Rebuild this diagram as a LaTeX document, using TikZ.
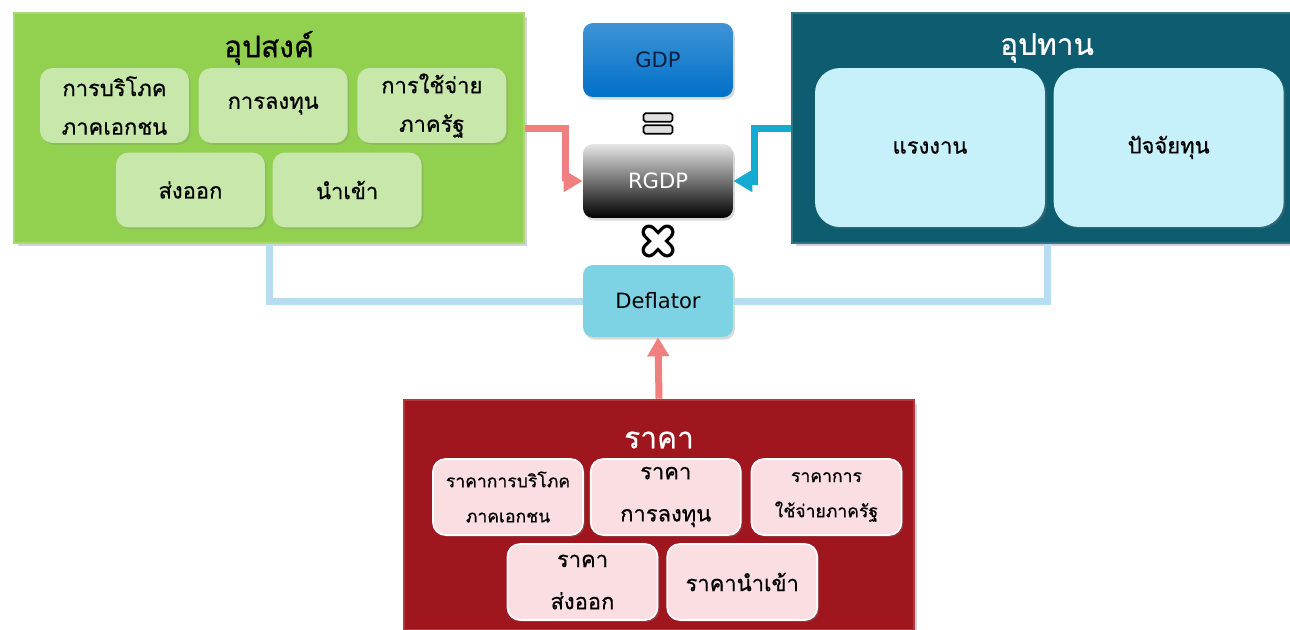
\documentclass[tikz,border=0pt]{standalone}
\usepackage{fontspec}
\newfontfamily\thaifont[Script=Thai, FakeBold=0.6]{Loma}
\newfontfamily\latinfont{DejaVu Sans}
\usetikzlibrary{arrows.meta, positioning, shadows}
\definecolor{demandgreen}{RGB}{146,208,80}
\definecolor{demandsub}{RGB}{200,231,170}
\definecolor{supplyteal}{RGB}{14,92,112}
\definecolor{supplysub}{RGB}{198,240,250}
\definecolor{pricered}{RGB}{160,22,30}
\definecolor{pricesub}{RGB}{250,222,226}
\definecolor{gdpblue}{RGB}{0,112,200}
\definecolor{deflcyan}{RGB}{125,210,228}
\definecolor{arrowpink}{RGB}{240,128,128}
\definecolor{arrowblue}{RGB}{20,170,210}
\definecolor{linkblue}{RGB}{180,222,242}

\begin{document}
\begin{tikzpicture}[
        x=0.02cm, y=-0.02cm,
        outer/.style={rectangle, minimum width=10.2cm, minimum height=4.6cm, line width=1.5pt, drop shadow={opacity=0.35, shadow xshift=2pt, shadow yshift=-2pt}},
        title/.style={font=\thaifont\fontsize{17}{20}\selectfont},
        dsub/.style={rectangle, rounded corners=0.25cm, fill=demandsub, minimum width=2.98cm, minimum height=1.5cm, align=center, inner sep=1pt, font=\thaifont\fontsize{12.5}{22}\selectfont, drop shadow={opacity=0.25, shadow xshift=1pt, shadow yshift=-1pt}},
        ssub/.style={rectangle, rounded corners=0.5cm, fill=supplysub, minimum width=4.6cm, minimum height=3.18cm, font=\thaifont\fontsize{12.5}{22}\selectfont, drop shadow={opacity=0.3, shadow xshift=1pt, shadow yshift=-1pt}},
        psub/.style={rectangle, rounded corners=0.25cm, fill=pricesub, draw=white, line width=1pt, minimum width=3cm, minimum height=1.52cm, align=center, inner sep=1pt, font=\thaifont\fontsize{12.5}{24}\selectfont, drop shadow={opacity=0.35, shadow xshift=1pt, shadow yshift=-1pt}},
        small/.style={font=\thaifont\fontsize{10}{20}\selectfont},
        mid/.style={rectangle, rounded corners=0.2cm, minimum width=3cm, minimum height=1.48cm, font=\latinfont\fontsize{12}{14}\selectfont, drop shadow={opacity=0.3, shadow xshift=1pt, shadow yshift=-1.5pt}},
        eqbar/.style={rectangle, rounded corners=1pt, draw=black, line width=1pt, fill=gray!25, minimum width=0.58cm, minimum height=0.17cm, inner sep=0pt},
        pinkarrow/.style={line width=0.14cm, draw=arrowpink, -{Triangle[length=0.38cm, width=0.42cm]}},
        bluearrow/.style={line width=0.14cm, draw=arrowblue, -{Triangle[length=0.38cm, width=0.42cm]}},
        link/.style={line width=0.14cm, draw=linkblue}
    ]
    \useasboundingbox (0,0) rectangle (1290,629);

    % demand
    \node[outer, fill=demandgreen, draw=demandgreen!80!white] (demand) at (269,128) {};
    \node[title] (demandtitle) at (269,48) {อุปสงค์};
    \node[dsub] (cons) at (114.5,105.5) {การบริโภค\\ภาคเอกชน};
    \node[dsub, right=0.18cm of cons] (inv) {การลงทุน};
    \node[dsub, right=0.18cm of inv] (gov) {การใช้จ่าย\\ภาครัฐ};
    \node[dsub] (exp) at (190.5,190) {ส่งออก};
    \node[dsub, right=0.14cm of exp] (imp) {นำเข้า};

    % supply
    \node[outer, fill=supplyteal, draw=supplyteal!85!white] (supply) at (1047,128) {};
    \node[title, text=white] (supplytitle) at (1047,48) {อุปทาน};
    \node[ssub] (labour) at (930,147.5) {แรงงาน};
    \node[ssub, right=0.16cm of labour] (capital) {ปัจจัยทุน};

    % centre
    \node[mid, top color=gdpblue!75!white, bottom color=gdpblue, text={rgb,255:red,15;green,30;blue,60}] (gdp) at (658,60) {GDP};
    \node[eqbar] (eqtop) at (658,117.5) {};
    \node[eqbar] (eqbot) at (658,129.5) {};
    \node[mid, top color=gray!20, bottom color=black, text=white] (rgdp) at (658,181) {RGDP};
    \coordinate (times) at (658,241);
    \node[mid, fill=deflcyan, minimum height=1.44cm] (defl) at (658,301) {Deflator};

    % price
    \node[outer, fill=pricered, draw=pricered!85!white] (price) at (659,515) {};
    \node[title, text=white] (pricetitle) at (659,440) {ราคา};
    \node[psub, small] (pcons) at (508,497) {ราคาการบริโภค\\ภาคเอกชน};
    \node[psub, right=0.12cm of pcons] (pinv) {ราคา\\การลงทุน};
    \node[psub, small, right=0.18cm of pinv] (pgov) {ราคาการ\\ใช้จ่ายภาครัฐ};
    \node[psub] (pexp) at (582.5,582) {ราคา\\ส่งออก};
    \node[psub, right=0.16cm of pexp] (pimp) {ราคานำเข้า};

    % times sign
    \draw[line width=0.3cm, line cap=round] ([shift={(-9,-9)}]times) -- ([shift={(9,9)}]times)
        ([shift={(-9,9)}]times) -- ([shift={(9,-9)}]times);
    \draw[line width=0.17cm, white, line cap=round] ([shift={(-9,-9)}]times) -- ([shift={(9,9)}]times)
        ([shift={(-9,9)}]times) -- ([shift={(9,-9)}]times);

    % connectors
    \draw[pinkarrow] (demand.east) -- ++(40,0) |- (rgdp.west);
    \draw[bluearrow] (supply.west) -- ++(-36,0) |- (rgdp.east);
    \draw[link] (demand.south) |- (defl.west);
    \draw[link] (supply.south) |- (defl.east);
    \draw[pinkarrow] (price.north) -- (defl.south);
\end{tikzpicture}
\end{document}
